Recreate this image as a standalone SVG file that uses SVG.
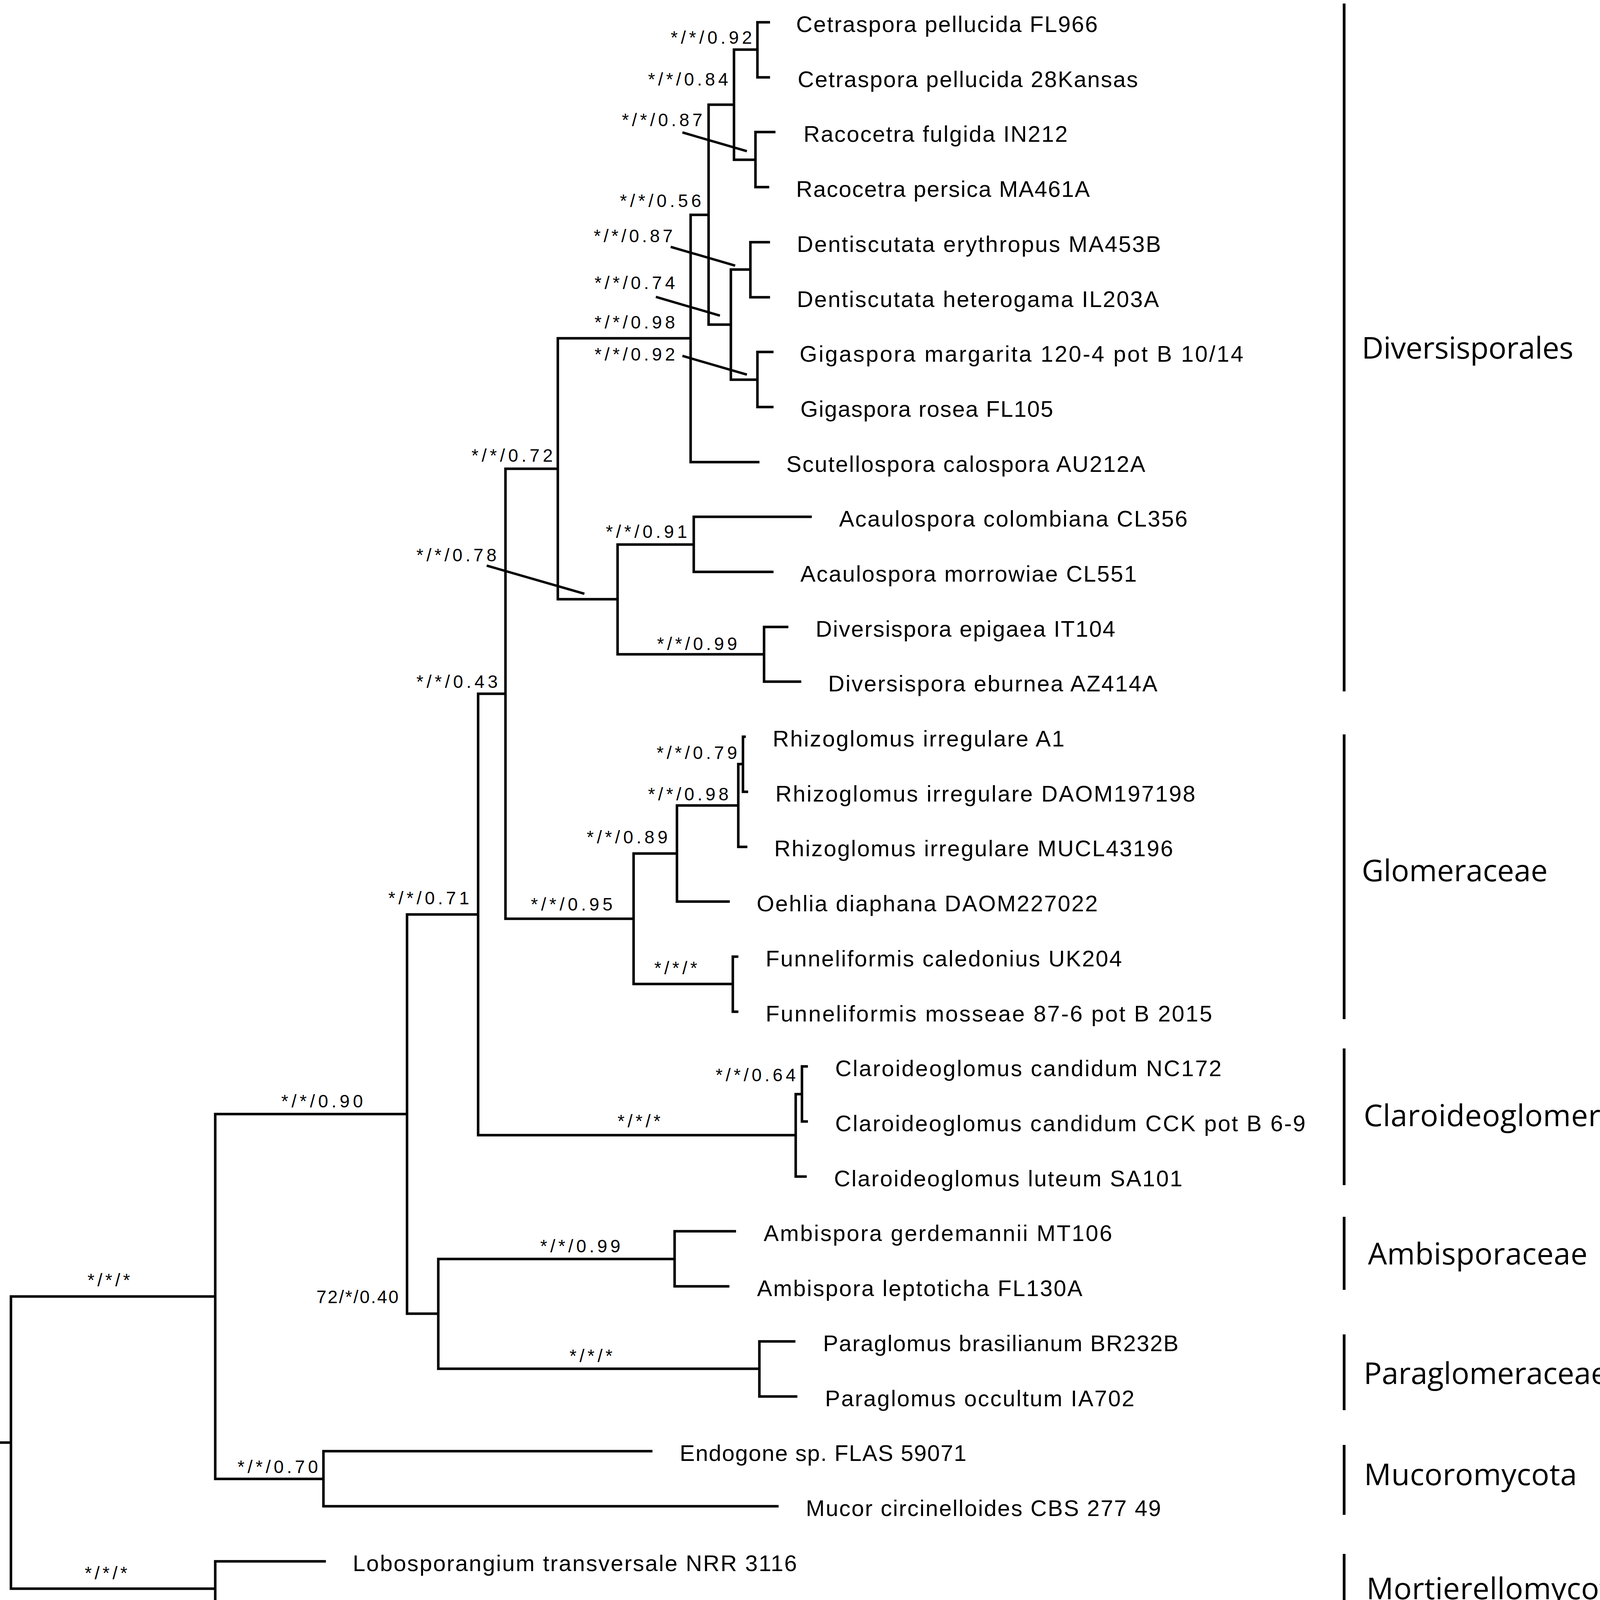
<svg xmlns="http://www.w3.org/2000/svg" width="4317" height="4467" viewBox="0 0 4317 4467">
<style>
.tree{fill:none;stroke:#000;stroke-width:6.5;stroke-linecap:square;stroke-linejoin:miter}
.lead{fill:none;stroke:#000;stroke-width:6;stroke-linecap:butt}
.bar{fill:none;stroke:#000;stroke-width:7}
.tx{font-family:"Liberation Sans",Arial,sans-serif;font-size:58px;fill:#000}
.sp{font-family:"Liberation Sans",Arial,sans-serif;font-size:46px;fill:#000}
.cl{font-family:"Open Sans","Noto Sans",sans-serif;font-size:77px;fill:#000}
.sc{font-family:"Liberation Sans",Arial,sans-serif;font-size:72px;fill:#000}
</style>
<rect x="0" y="0" width="4317" height="4467" fill="#fff"/>
<g id="connectors">
<path class="tree" d="M1968 57 H1939 V198 H1968 M1939 127 H1879 V409 H1934 M1982 338 H1934 V479 H1966 M1879 268 H1814 V831 H1871 M1968 620 H1921 V761 H1968 M1921 690 H1871 V972 H1939 M1977 901 H1939 V1042 H1977 M1814 550 H1768 V1183 H1941 M1768 866 H1428 V1534 H1581 M2075 1323 H1776 V1464 H1977 M1776 1394 H1581 V1675 H1956 M2015 1605 H1956 V1745 H2048 M1428 1200 H1294 V2352 H1622 M1906 1886 H1902 V2027 H1912 M1902 1956 H1890 V2168 H1910 M1890 2062 H1733 V2308 H1865 M1733 2185 H1622 V2519 H1876 M1887 2449 H1876 V2590 H1887 M1294 1776 H1224 V2906 H2037 M2053 2801 H2037 V3012 H2062 M2065 2730 H2053 V2871 H2065 M1224 2341 H1042 V3363 H1122 M1727 3223 H1122 V3504 H1944 M1881 3152 H1727 V3293 H1864 M2033 3434 H1944 V3575 H2038 M1042 2852 H551 V3786 H828 M1667 3715 H828 V3856 H1990 M551 3319 H28 V4067 H551 M831 3997 H551 V4137 H831 M0 3693 H28"/>
<path class="lead" d="M1747 339 L1912 387 M1717 632 L1882 680 M1679 760 L1843 808 M1747 911 L1912 959 M1246 1448 L1496 1520"/>
</g>
<g id="support-labels">
<text class="sp" x="1717" y="112" textLength="208" lengthAdjust="spacing">*/*/0.92</text>
<text class="sp" x="1659" y="219" textLength="205" lengthAdjust="spacing">*/*/0.84</text>
<text class="sp" x="1592" y="323" textLength="206" lengthAdjust="spacing">*/*/0.87</text>
<text class="sp" x="1587" y="530" textLength="208" lengthAdjust="spacing">*/*/0.56</text>
<text class="sp" x="1520" y="620" textLength="202" lengthAdjust="spacing">*/*/0.87</text>
<text class="sp" x="1522" y="740" textLength="206" lengthAdjust="spacing">*/*/0.74</text>
<text class="sp" x="1522" y="841" textLength="206" lengthAdjust="spacing">*/*/0.98</text>
<text class="sp" x="1522" y="923" textLength="206" lengthAdjust="spacing">*/*/0.92</text>
<text class="sp" x="1207" y="1182" textLength="208" lengthAdjust="spacing">*/*/0.72</text>
<text class="sp" x="1551" y="1377" textLength="208" lengthAdjust="spacing">*/*/0.91</text>
<text class="sp" x="1066" y="1437" textLength="205" lengthAdjust="spacing">*/*/0.78</text>
<text class="sp" x="1682" y="1664" textLength="205" lengthAdjust="spacing">*/*/0.99</text>
<text class="sp" x="1066" y="1761" textLength="208" lengthAdjust="spacing">*/*/0.43</text>
<text class="sp" x="1681" y="1943" textLength="206" lengthAdjust="spacing">*/*/0.79</text>
<text class="sp" x="1659" y="2049" textLength="206" lengthAdjust="spacing">*/*/0.98</text>
<text class="sp" x="1502" y="2159" textLength="207" lengthAdjust="spacing">*/*/0.89</text>
<text class="sp" x="994" y="2315" textLength="207" lengthAdjust="spacing">*/*/0.71</text>
<text class="sp" x="1359" y="2331" textLength="209" lengthAdjust="spacing">*/*/0.95</text>
<text class="sp" x="1675" y="2494" textLength="110" lengthAdjust="spacing">*/*/*</text>
<text class="sp" x="1832" y="2768" textLength="205" lengthAdjust="spacing">*/*/0.64</text>
<text class="sp" x="1581" y="2886" textLength="110" lengthAdjust="spacing">*/*/*</text>
<text class="sp" x="720" y="2835" textLength="209" lengthAdjust="spacing">*/*/0.90</text>
<text class="sp" x="1383" y="3206" textLength="205" lengthAdjust="spacing">*/*/0.99</text>
<text class="sp" x="810" y="3336" textLength="210" lengthAdjust="spacing">72/*/0.40</text>
<text class="sp" x="1458" y="3487" textLength="110" lengthAdjust="spacing">*/*/*</text>
<text class="sp" x="608" y="3771" textLength="206" lengthAdjust="spacing">*/*/0.70</text>
<text class="sp" x="224" y="3293" textLength="109" lengthAdjust="spacing">*/*/*</text>
<text class="sp" x="217" y="4043" textLength="109" lengthAdjust="spacing">*/*/*</text>
</g>
<g id="taxon-1"><text class="tx" x="2038" y="82" textLength="772" lengthAdjust="spacing">Cetraspora pellucida FL966</text></g>
<g id="taxon-2"><text class="tx" x="2042" y="223" textLength="871" lengthAdjust="spacing">Cetraspora pellucida 28Kansas</text></g>
<g id="taxon-3"><text class="tx" x="2057" y="363" textLength="676" lengthAdjust="spacing">Racocetra fulgida IN212</text></g>
<g id="taxon-4"><text class="tx" x="2038" y="504" textLength="752" lengthAdjust="spacing">Racocetra persica MA461A</text></g>
<g id="taxon-5"><text class="tx" x="2040" y="645" textLength="932" lengthAdjust="spacing">Dentiscutata erythropus MA453B</text></g>
<g id="taxon-6"><text class="tx" x="2040" y="786" textLength="927" lengthAdjust="spacing">Dentiscutata heterogama IL203A</text></g>
<g id="taxon-7"><text class="tx" x="2047" y="926" textLength="1136" lengthAdjust="spacing">Gigaspora margarita 120-4 pot B 10/14</text></g>
<g id="taxon-8"><text class="tx" x="2049" y="1067" textLength="647" lengthAdjust="spacing">Gigaspora rosea FL105</text></g>
<g id="taxon-9"><text class="tx" x="2013" y="1208" textLength="919" lengthAdjust="spacing">Scutellospora calospora AU212A</text></g>
<g id="taxon-10"><text class="tx" x="2148" y="1348" textLength="892" lengthAdjust="spacing">Acaulospora colombiana CL356</text></g>
<g id="taxon-11"><text class="tx" x="2049" y="1489" textLength="861" lengthAdjust="spacing">Acaulospora morrowiae CL551</text></g>
<g id="taxon-12"><text class="tx" x="2088" y="1630" textLength="767" lengthAdjust="spacing">Diversispora epigaea IT104</text></g>
<g id="taxon-13"><text class="tx" x="2120" y="1770" textLength="843" lengthAdjust="spacing">Diversispora eburnea AZ414A</text></g>
<g id="taxon-14"><text class="tx" x="1978" y="1911" textLength="747" lengthAdjust="spacing">Rhizoglomus irregulare A1</text></g>
<g id="taxon-15"><text class="tx" x="1985" y="2052" textLength="1075" lengthAdjust="spacing">Rhizoglomus irregulare DAOM197198</text></g>
<g id="taxon-16"><text class="tx" x="1982" y="2192" textLength="1021" lengthAdjust="spacing">Rhizoglomus irregulare MUCL43196</text></g>
<g id="taxon-17"><text class="tx" x="1937" y="2333" textLength="873" lengthAdjust="spacing">Oehlia diaphana DAOM227022</text></g>
<g id="taxon-18"><text class="tx" x="1960" y="2474" textLength="912" lengthAdjust="spacing">Funneliformis caledonius UK204</text></g>
<g id="taxon-19"><text class="tx" x="1960" y="2615" textLength="1143" lengthAdjust="spacing">Funneliformis mosseae 87-6 pot B 2015</text></g>
<g id="taxon-20"><text class="tx" x="2138" y="2755" textLength="989" lengthAdjust="spacing">Claroideoglomus candidum NC172</text></g>
<g id="taxon-21"><text class="tx" x="2138" y="2896" textLength="1204" lengthAdjust="spacing">Claroideoglomus candidum CCK pot B 6-9</text></g>
<g id="taxon-22"><text class="tx" x="2135" y="3037" textLength="892" lengthAdjust="spacing">Claroideoglomus luteum SA101</text></g>
<g id="taxon-23"><text class="tx" x="1955" y="3177" textLength="892" lengthAdjust="spacing">Ambispora gerdemannii MT106</text></g>
<g id="taxon-24"><text class="tx" x="1938" y="3318" textLength="833" lengthAdjust="spacing">Ambispora leptoticha FL130A</text></g>
<g id="taxon-25"><text class="tx" x="2107" y="3459" textLength="910" lengthAdjust="spacing">Paraglomus brasilianum BR232B</text></g>
<g id="taxon-26"><text class="tx" x="2112" y="3600" textLength="792" lengthAdjust="spacing">Paraglomus occultum IA702</text></g>
<g id="taxon-27"><text class="tx" x="1740" y="3740" textLength="734" lengthAdjust="spacing">Endogone sp. FLAS 59071</text></g>
<g id="taxon-28"><text class="tx" x="2063" y="3881" textLength="909" lengthAdjust="spacing">Mucor circinelloides CBS 277 49</text></g>
<g id="taxon-29"><text class="tx" x="903" y="4022" textLength="1137" lengthAdjust="spacing">Lobosporangium transversale NRR 3116</text></g>
<g id="taxon-30"><text class="tx" x="903" y="4162" textLength="754" lengthAdjust="spacing">Mortierella elongata AG 77</text></g>
<g id="clade-diversisporales"><line class="bar" x1="3441" y1="9" x2="3441" y2="1770"/><text class="cl" x="3486" y="918" textLength="542" lengthAdjust="spacing">Diversisporales</text></g>
<g id="clade-glomeraceae"><line class="bar" x1="3441" y1="1880" x2="3441" y2="2609"/><text class="cl" x="3486" y="2256" textLength="476" lengthAdjust="spacing">Glomeraceae</text></g>
<g id="clade-claroideoglomeraceae"><line class="bar" x1="3441" y1="2684" x2="3441" y2="3034"/><text class="cl" x="3491" y="2883" textLength="818" lengthAdjust="spacing">Claroideoglomeraceae</text></g>
<g id="clade-ambisporaceae"><line class="bar" x1="3441" y1="3115" x2="3441" y2="3302"/><text class="cl" x="3502" y="3237" textLength="562" lengthAdjust="spacing">Ambisporaceae</text></g>
<g id="clade-paraglomeraceae"><line class="bar" x1="3441" y1="3416" x2="3441" y2="3610"/><text class="cl" x="3491" y="3543" textLength="625" lengthAdjust="spacing">Paraglomeraceae</text></g>
<g id="clade-mucoromycota"><line class="bar" x1="3441" y1="3699" x2="3441" y2="3878"/><text class="cl" x="3492" y="3802" textLength="545" lengthAdjust="spacing">Mucoromycota</text></g>
<g id="clade-mortierellomycota"><line class="bar" x1="3441" y1="3978" x2="3441" y2="4159"/><text class="cl" x="3498" y="4094" textLength="667" lengthAdjust="spacing">Mortierellomycota</text></g>
<g id="scale-bar"><line class="tree" x1="908" y1="4349" x2="1172" y2="4349" style="stroke-linecap:butt"/><text class="sc" x="985" y="4461" textLength="112" lengthAdjust="spacing">0.2</text></g>
</svg>
